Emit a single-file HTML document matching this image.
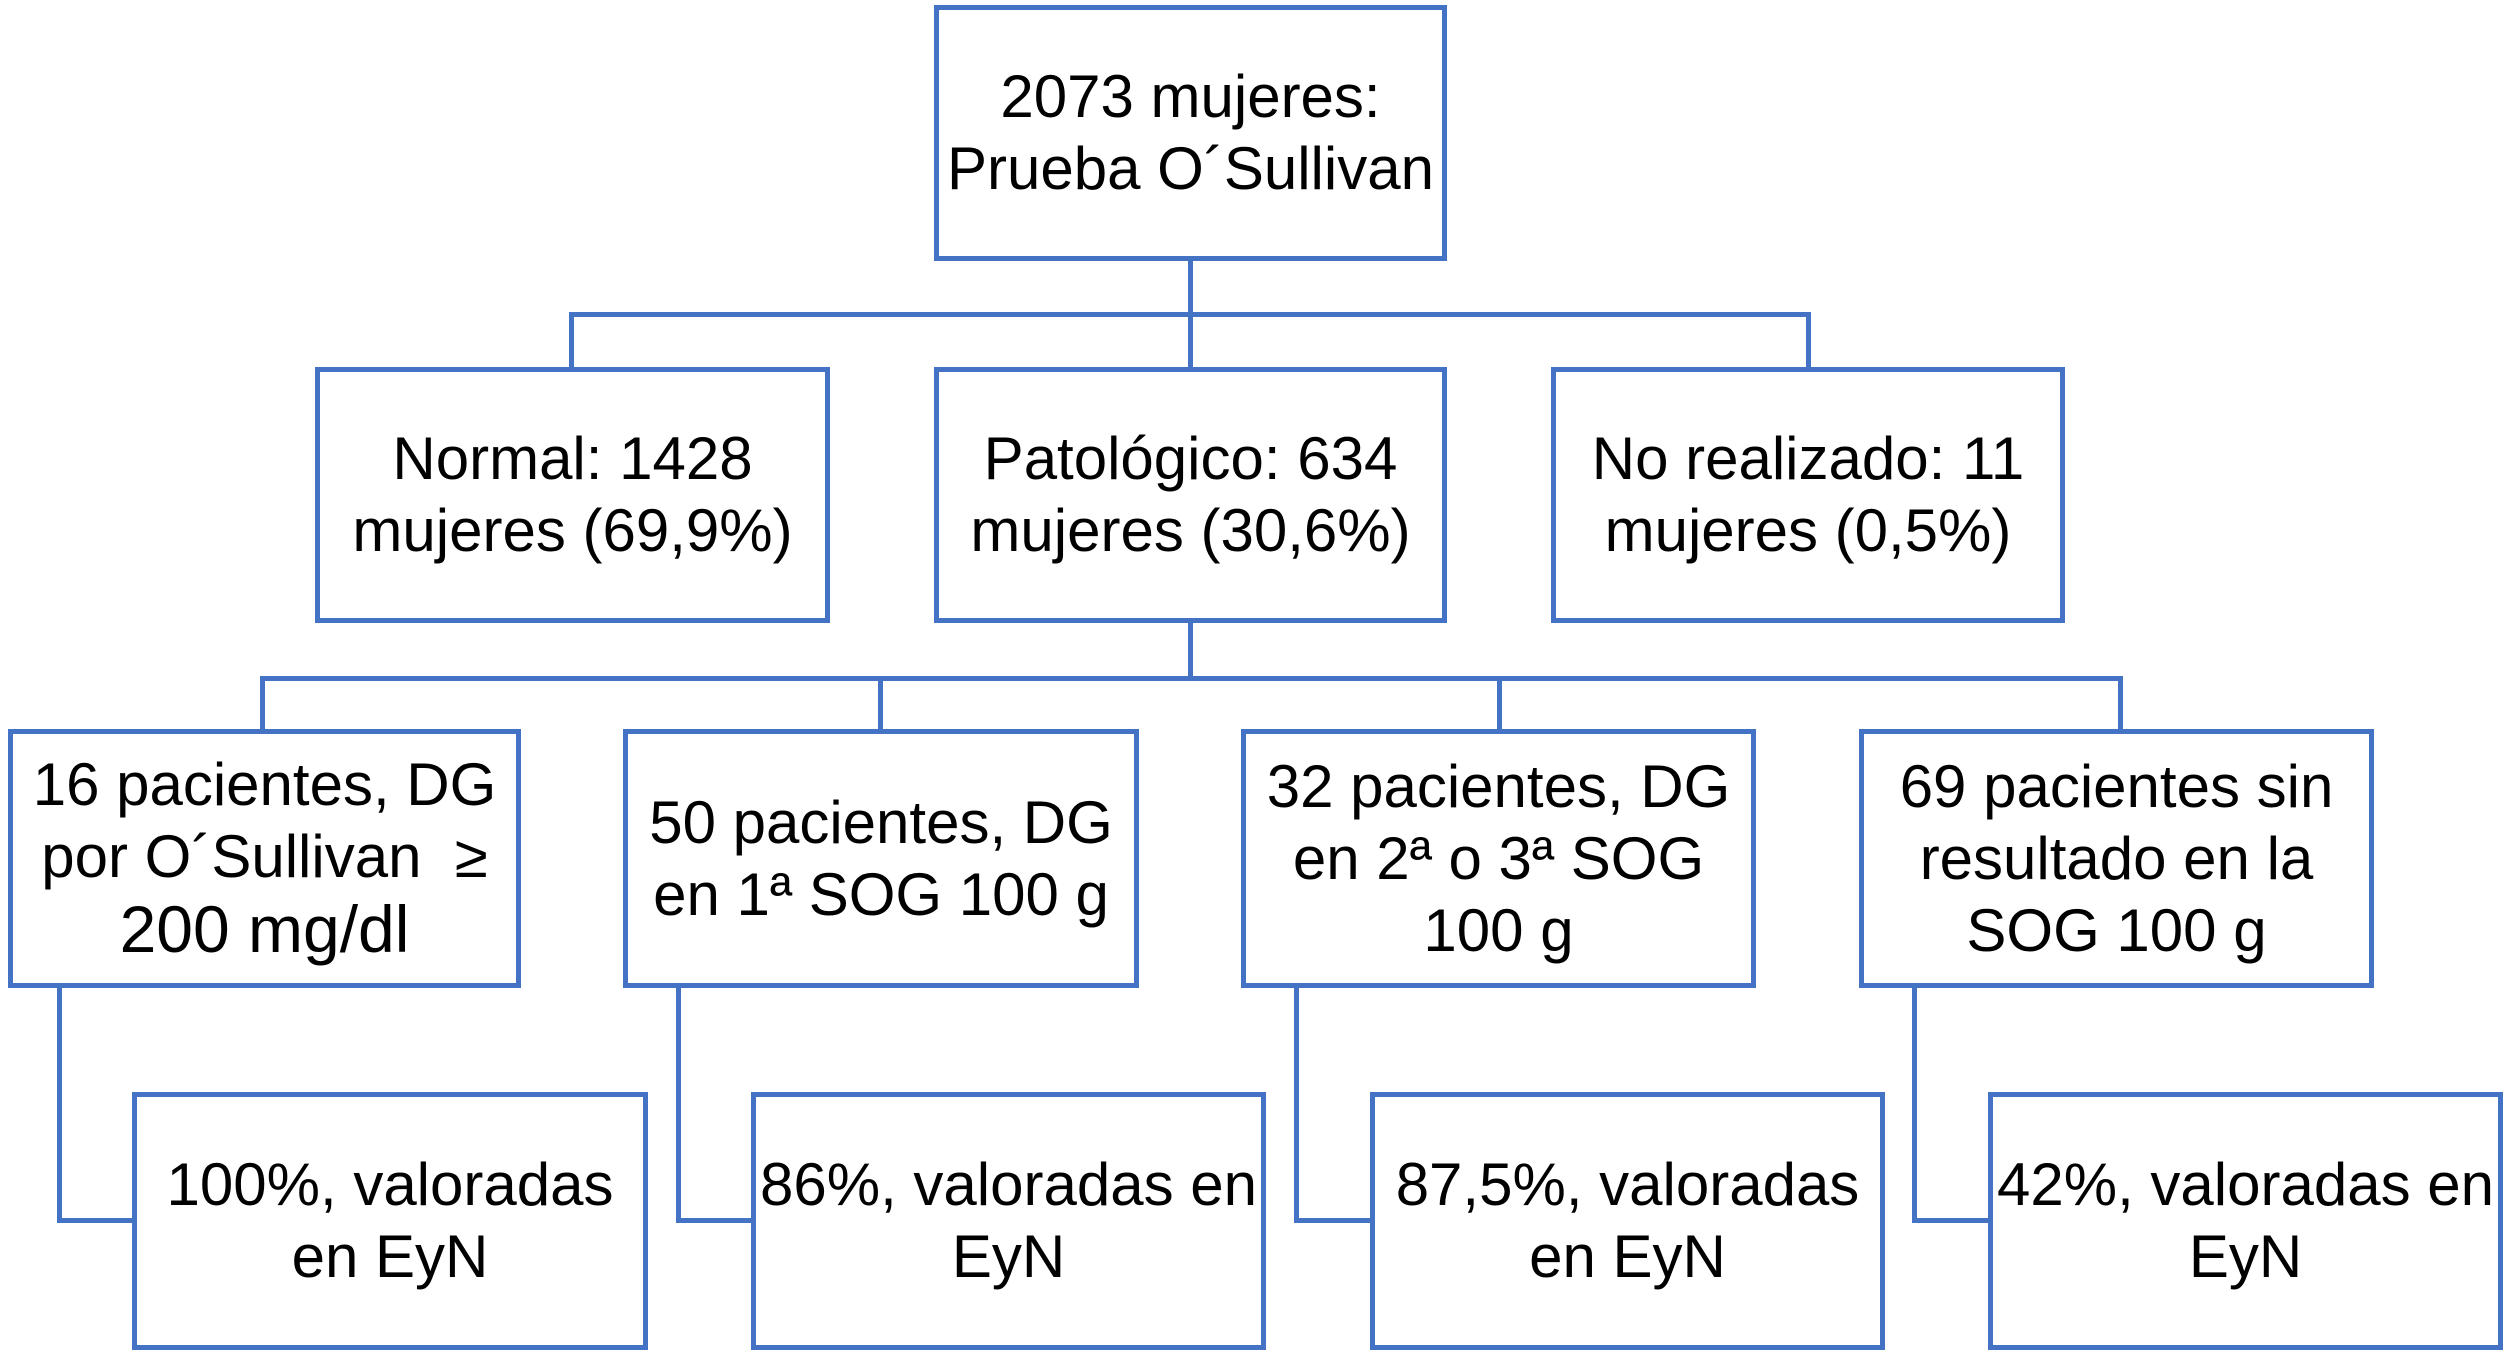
<!DOCTYPE html>
<html><head><meta charset="utf-8"><style>
body{margin:0;background:#fff;width:2508px;height:1356px;position:relative;overflow:hidden;font-family:"Liberation Sans",sans-serif;}
.b{position:absolute;box-sizing:border-box;border:5px solid #4472C4;display:flex;align-items:center;justify-content:center;text-align:center;font-size:60px;line-height:72px;color:#000;white-space:nowrap;}
.l{position:absolute;background:#4472C4;}
</style></head><body>
<div class="l" style="left:1188px;top:259px;width:5px;height:110px"></div>
<div class="l" style="left:569px;top:312px;width:1242px;height:5px"></div>
<div class="l" style="left:569px;top:312px;width:5px;height:57px"></div>
<div class="l" style="left:1806px;top:312px;width:5px;height:57px"></div>
<div class="l" style="left:1188px;top:621px;width:5px;height:60px"></div>
<div class="l" style="left:260px;top:676px;width:1863px;height:5px"></div>
<div class="l" style="left:260px;top:676px;width:5px;height:55px"></div>
<div class="l" style="left:878px;top:676px;width:5px;height:55px"></div>
<div class="l" style="left:1497px;top:676px;width:5px;height:55px"></div>
<div class="l" style="left:2118px;top:676px;width:5px;height:55px"></div>
<div class="l" style="left:57px;top:985px;width:5px;height:238px"></div>
<div class="l" style="left:57px;top:1218px;width:78px;height:5px"></div>
<div class="l" style="left:676px;top:985px;width:5px;height:238px"></div>
<div class="l" style="left:676px;top:1218px;width:78px;height:5px"></div>
<div class="l" style="left:1294px;top:985px;width:5px;height:238px"></div>
<div class="l" style="left:1294px;top:1218px;width:78px;height:5px"></div>
<div class="l" style="left:1912px;top:985px;width:5px;height:238px"></div>
<div class="l" style="left:1912px;top:1218px;width:78px;height:5px"></div>
<div class="b" style="left:934px;top:5px;width:513px;height:256px"><div>2073 mujeres:<br>Prueba O´Sullivan</div></div>
<div class="b" style="left:315px;top:367px;width:515px;height:256px"><div>Normal: 1428<br>mujeres (69,9%)</div></div>
<div class="b" style="left:934px;top:367px;width:513px;height:256px"><div>Patológico: 634<br>mujeres (30,6%)</div></div>
<div class="b" style="left:1551px;top:367px;width:514px;height:256px"><div>No realizado: 11<br>mujeres (0,5%)</div></div>
<div class="b" style="left:8px;top:729px;width:513px;height:259px"><div>16 pacientes, DG<br>por O´Sullivan&nbsp; ≥<br><span style="font-size:66px">200 mg/dl</span></div></div>
<div class="b" style="left:623px;top:729px;width:516px;height:259px"><div>50 pacientes, DG<br>en 1ª SOG 100 g</div></div>
<div class="b" style="left:1241px;top:729px;width:515px;height:259px"><div>32 pacientes, DG<br>en 2ª o 3ª SOG<br>100 g</div></div>
<div class="b" style="left:1859px;top:729px;width:515px;height:259px"><div>69 pacientes sin<br>resultado en la<br>SOG 100 g</div></div>
<div class="b" style="left:132px;top:1092px;width:516px;height:258px"><div>100%, valoradas<br>en EyN</div></div>
<div class="b" style="left:751px;top:1092px;width:515px;height:258px"><div>86%, valoradas en<br>EyN</div></div>
<div class="b" style="left:1370px;top:1092px;width:515px;height:258px"><div>87,5%, valoradas<br>en EyN</div></div>
<div class="b" style="left:1988px;top:1092px;width:515px;height:258px"><div>42%, valoradas en<br>EyN</div></div>
</body></html>
